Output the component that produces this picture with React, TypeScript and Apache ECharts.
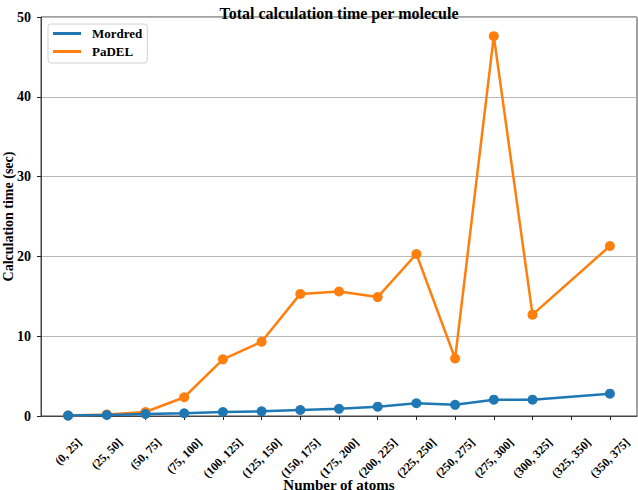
import React, { useEffect, useRef } from "react";
import * as echarts from "echarts";

const categories = [
  "(0, 25]", "(25, 50]", "(50, 75]", "(75, 100]", "(100, 125]", "(125, 150]",
  "(150, 175]", "(175, 200]", "(200, 225]", "(225, 250]", "(250, 275]",
  "(275, 300]", "(300, 325]", "(325, 350]", "(350, 375]",
];
const mordred = [0.05, 0.12, 0.25, 0.35, 0.5, 0.58, 0.75, 0.9, 1.17, 1.6, 1.4, 2.05, 2.05, null, 2.8];
const padel = [0.05, 0.2, 0.5, 2.35, 7.1, 9.3, 15.3, 15.6, 14.9, 20.3, 7.2, 47.6, 12.7, null, 21.3];
const yTicks = [0, 10, 20, 30, 40, 50];

const FONT = "'Liberation Serif', 'Times New Roman', serif";
const XLAB_SIZE = 12;

export default function App() {
  const ref = useRef<HTMLDivElement>(null);
  useEffect(() => {
    if (!ref.current) return;
    const chart = echarts.init(ref.current, null, { renderer: "svg" });
    const toPairs = (arr: (number | null)[]) => arr.map((v, i) => [i, v === null ? "-" : v]);
    const idx = categories.map((_, i) => i);

    // measure label widths so rotated labels share a common top edge (matplotlib ha="center")
    const ctx = document.createElement("canvas").getContext("2d");
    const widths = categories.map((c) => {
      if (!ctx) return c.length * 5;
      ctx.font = `bold ${XLAB_SIZE}px 'Liberation Serif'`;
      return ctx.measureText(c).width;
    });
    const maxW = Math.max(...widths);
    const rich: Record<string, any> = {};
    categories.forEach((_, i) => {
      const p = Math.max(0, (maxW - widths[i]) / 2);
      rich["c" + i] = {
        fontFamily: FONT,
        fontWeight: "bold",
        fontSize: XLAB_SIZE,
        color: "#000",
        padding: [0, 0, p, p],
      };
    });

    chart.setOption({
      animation: false,
      backgroundColor: "#ffffff",
      title: {
        text: "Total calculation time per molecule",
        left: 334,
        textAlign: "center",
        top: 0,
        textStyle: { fontFamily: FONT, fontWeight: "bold", fontSize: 16, color: "#000" },
      },
      legend: {
        orient: "vertical",
        left: 48,
        top: 24,
        padding: [3, 5, 5, 5],
        itemGap: 5,
        itemWidth: 28,
        itemHeight: 3,
        icon: "rect",
        backgroundColor: "rgba(255,255,255,0.8)",
        borderColor: "#d0d0d0",
        borderWidth: 1,
        borderRadius: 3,
        textStyle: { fontFamily: FONT, fontWeight: "bold", fontSize: 13, color: "#000", padding: [0, 0, 0, 6] },
        data: ["Mordred", "PaDEL"],
      },
      grid: {
        left: 41,
        right: 1,
        top: 17,
        bottom: 74,
        show: true,
        borderColor: "#444",
        borderWidth: 1,
        containLabel: false,
        outerBoundsMode: "none",
      },
      xAxis: {
        type: "value",
        min: -0.7,
        max: 14.7,
        interval: 0.7,
        name: "Number of atoms",
        nameLocation: "middle",
        nameGap: 61,
        nameMoveOverlap: false,
        nameTextStyle: { fontFamily: FONT, fontWeight: "bold", fontSize: 15, color: "#000" },
        axisLine: { show: true, onZero: false, lineStyle: { color: "#444", width: 1 } },
        axisTick: {
          show: true,
          length: 4,
          customValues: idx,
          lineStyle: { color: "#222" },
        },
        axisLabel: {
          customValues: idx,
          rotate: 45,
          margin: 42,
          align: "center",
          verticalAlign: "middle",
          hideOverlap: false,
          formatter: (v: number) => {
            const i = Math.round(v);
            return categories[i] !== undefined ? `{c${i}|${categories[i]}}` : "";
          },
          rich,
          fontFamily: FONT,
          fontWeight: "bold",
          fontSize: XLAB_SIZE,
          color: "#000",
        },
        splitLine: { show: false },
      },
      yAxis: {
        type: "value",
        min: yTicks[0],
        max: yTicks[yTicks.length - 1],
        interval: 10,
        name: "Calculation time (sec)",
        nameLocation: "middle",
        nameGap: 26,
        nameMoveOverlap: false,
        nameTextStyle: { fontFamily: FONT, fontWeight: "bold", fontSize: 14, color: "#000" },
        axisLine: { show: true, onZero: false, lineStyle: { color: "#444", width: 1 } },
        axisTick: { show: true, length: 4, lineStyle: { color: "#222" } },
        axisLabel: {
          fontFamily: FONT,
          fontWeight: "bold",
          fontSize: 14,
          color: "#000",
          margin: 10,
        },
        splitLine: { show: true, lineStyle: { color: "#b8b8b8", width: 1 } },
      },
      series: [
        {
          name: "Mordred",
          type: "line",
          data: toPairs(mordred),
          connectNulls: true,
          symbol: "circle",
          symbolSize: 10,
          lineStyle: { color: "#1f77b4", width: 2.5 },
          itemStyle: { color: "#1f77b4" },
          z: 3,
        },
        {
          name: "PaDEL",
          type: "line",
          data: toPairs(padel),
          connectNulls: true,
          symbol: "circle",
          symbolSize: 10,
          lineStyle: { color: "#ff7f0e", width: 2.5 },
          itemStyle: { color: "#ff7f0e" },
          z: 2,
        },
      ],
    });
    return () => chart.dispose();
  }, []);
  return (
    <div
      ref={ref}
      style={{ position: "fixed", left: 0, top: 0, width: 638, height: 490 }}
    />
  );
}
